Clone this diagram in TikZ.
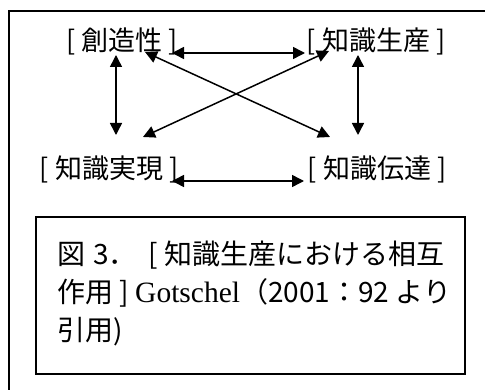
\documentclass[tikz,border=0pt]{standalone}
\usepackage{fontspec}
\setmainfont{Noto Sans CJK JP}
\newfontfamily\serifrm{Liberation Serif}
\usetikzlibrary{arrows.meta}
\tikzset{
  lbl/.style={inner sep=0pt, font=\fontsize{27}{30}\selectfont},
  capline/.style={inner sep=0pt, anchor=base west, font=\fontsize{28}{30}\selectfont},
  biarrow/.style={line width=1.5pt, {Triangle[length=12pt,width=12pt]}-{Triangle[length=12pt,width=12pt]}},
  frame/.style={line width=2pt},
  capbox/.style={draw, line width=1.6pt, inner sep=0pt, minimum width=429pt, minimum height=157pt, anchor=north west},
}
\begin{document}
\begin{tikzpicture}[x=1pt,y=-1pt]
\useasboundingbox (0,0) rectangle (485,390);
% outer frame (cut off at right and bottom)
\draw[frame] (9,395) -- (9,11) -- (490,11);

\node[lbl] (cre)   at (122,41)  {[ 創造性 ]};
\node[lbl] (prod)  at (376,41)  {[ 知識生産 ]};
\node[lbl] (real)  at (109,169) {[ 知識実現 ]};
\node[lbl] (trans) at (377,169) {[ 知識伝達 ]};

\coordinate (t1) at (172,53);  \coordinate (t2) at (305,53);
\coordinate (b1) at (172,181); \coordinate (b2) at (304,181);
\coordinate (l1) at (116,55);  \coordinate (l2) at (116,135);
\coordinate (r1) at (358,55);  \coordinate (r2) at (358,135);
\coordinate (d1a) at (145,52); \coordinate (d1b) at (330,137);
\coordinate (d2a) at (329,51); \coordinate (d2b) at (143,137);

\draw[biarrow] (t1) -- (t2);
\draw[biarrow] (b1) -- (b2);
\draw[biarrow] (l1) -- (l2);
\draw[biarrow] (r1) -- (r2);
\draw[biarrow] (d1a) -- (d1b);
\draw[biarrow] (d2a) -- (d2b);

\node[capbox] (cap) at (35,216) {};
\node[capline] (c1) at (57,265) {図\hspace{8pt}3．\hspace{12pt}[ 知識生産における相互};
\node[capline] (c2) at (57,303) {作用 ] {\serifrm\fontsize{29.5}{30}\selectfont Gotschel}（2001：92 より};
\node[capline] (c3) at (57,341) {引用)};
\end{tikzpicture}
\end{document}
